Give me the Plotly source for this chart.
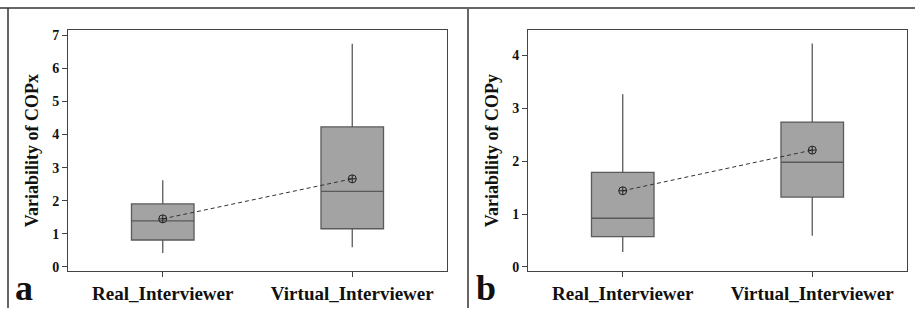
import plotly.graph_objects as go

W, H = 915, 312

categories = ["Real_Interviewer", "Virtual_Interviewer"]

# Panel a: Variability of COPx
a_lower = [0.42, 0.59]
a_q1 = [0.81, 1.15]
a_median = [1.39, 2.28]
a_q3 = [1.90, 4.23]
a_upper = [2.62, 6.75]
a_mean = [1.45, 2.66]

# Panel b: Variability of COPy
b_lower = [0.28, 0.59]
b_q1 = [0.57, 1.32]
b_median = [0.92, 1.98]
b_q3 = [1.79, 2.74]
b_upper = [3.27, 4.23]
b_mean = [1.44, 2.21]

a_yticks = [0, 1, 2, 3, 4, 5, 6, 7]
b_yticks = [0, 1, 2, 3, 4]

FONT = "Liberation Serif, Times New Roman, serif"
BOX_FILL = "#a3a3a3"
BOX_LINE = "#5a5a5a"

fig = go.Figure()


def add_panel(xa, ya, lower, q1, med, q3, upper, mean):
    fig.add_trace(go.Box(
        x=categories, q1=q1, median=med, q3=q3,
        lowerfence=lower, upperfence=upper,
        width=0.33, whiskerwidth=0,
        fillcolor=BOX_FILL, line=dict(color=BOX_LINE, width=1.3),
        boxpoints=False, showlegend=False, hoverinfo="skip",
        xaxis=xa, yaxis=ya,
    ))
    fig.add_trace(go.Scatter(
        x=categories, y=mean, mode="lines+markers",
        line=dict(color="#333333", width=1, dash="4px,3px"),
        marker=dict(symbol="circle-cross-open", size=8,
                    color="#222222", line=dict(width=1)),
        showlegend=False, hoverinfo="skip",
        xaxis=xa, yaxis=ya,
    ))


add_panel("x", "y", a_lower, a_q1, a_median, a_q3, a_upper, a_mean)
add_panel("x2", "y2", b_lower, b_q1, b_median, b_q3, b_upper, b_mean)

ydom = [1 - 274 / H, 1 - 29 / H]

common_x = dict(
    type="category", range=[-0.5, 1.5], showgrid=False, zeroline=False,
    showline=True, mirror=True, linecolor="#444444", linewidth=1,
    ticks="outside", ticklen=5, tickcolor="#444444",
    tickfont=dict(family=FONT, size=19, color="#111", weight="bold"),
)
common_y = dict(
    showgrid=False, zeroline=False, showline=True, mirror=True,
    linecolor="#444444", linewidth=1, ticks="outside", ticklen=5,
    tickcolor="#444444",
    tickfont=dict(family=FONT, size=14, color="#111", weight="bold"),
)
title_font = dict(family=FONT, size=18, color="#111", weight="bold")

fig.update_layout(
    width=W, height=H,
    margin=dict(l=0, r=0, t=0, b=0),
    paper_bgcolor="white", plot_bgcolor="white",
    font=dict(family=FONT),
    xaxis=dict(domain=[68 / W, 447 / W], anchor="y", **common_x),
    yaxis=dict(domain=ydom, anchor="x", range=[-0.12, 7.15],
               tickvals=a_yticks,
               title=dict(text="Variability of COPx", standoff=8,
                          font=title_font),
               **common_y),
    xaxis2=dict(domain=[528 / W, 907 / W], anchor="y2", **common_x),
    yaxis2=dict(domain=ydom, anchor="x2", range=[-0.074, 4.476],
                tickvals=b_yticks,
                title=dict(text="Variability of COPy", standoff=8,
                           font=title_font),
                **common_y),
)

# outer frame lines
fig.add_shape(type="line", xref="paper", yref="paper",
              x0=0, x1=1, y0=1 - 6 / H, y1=1 - 6 / H,
              line=dict(color="#333333", width=1.5))
fig.add_shape(type="line", xref="paper", yref="paper",
              x0=8 / W, x1=8 / W, y0=0, y1=1 - 6 / H,
              line=dict(color="#333333", width=1.5))
fig.add_shape(type="line", xref="paper", yref="paper",
              x0=468 / W, x1=468 / W, y0=0, y1=1 - 6 / H,
              line=dict(color="#666666", width=2))

# panel letters
for letter, px in (("a", 24), ("b", 486)):
    fig.add_annotation(
        text=letter, xref="paper", yref="paper",
        x=px / W, y=1 - 292 / H, showarrow=False,
        xanchor="center", yanchor="middle",
        font=dict(family=FONT, size=36, color="#111", weight="bold"),
    )

fig.write_html(
    "out.html",
    config={"displayModeBar": False},
    post_script="document.body.style.margin='0';document.body.style.overflow='hidden';",
)
